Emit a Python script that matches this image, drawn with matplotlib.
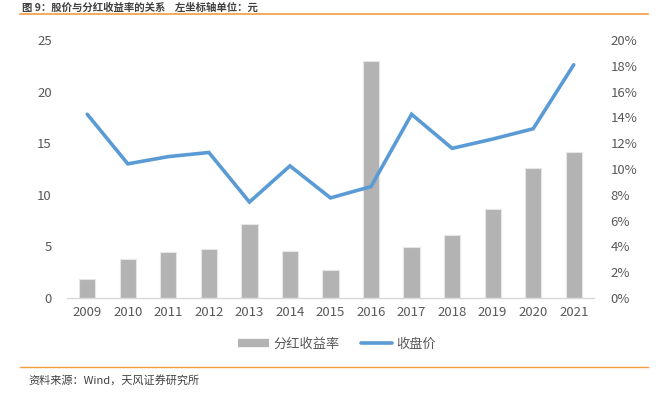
import matplotlib
matplotlib.use("Agg")
import matplotlib.pyplot as plt
from matplotlib.lines import Line2D
from matplotlib.ticker import FuncFormatter

plt.rcParams['font.family'] = ['Noto Sans CJK SC', 'DejaVu Sans']

years = ['2009', '2010', '2011', '2012', '2013', '2014', '2015',
         '2016', '2017', '2018', '2019', '2020', '2021']
dividend_yield = [1.5, 3.0, 3.55, 3.8, 5.76, 3.67, 2.15,
                  18.4, 3.93, 4.88, 6.9, 10.08, 11.3]   # %
close_price = [17.8, 13.0, 13.7, 14.1, 9.3, 12.8, 9.7,
               10.8, 17.8, 14.5, 15.4, 16.4, 22.6]     # 元

W, H = 669, 398
fig = plt.figure(figsize=(W / 100, H / 100), dpi=100)

ax = fig.add_axes([67 / W, 1 - 298 / H, (594 - 67) / W, (298 - 40) / H])
ax2 = ax.twinx()

x = list(range(len(years)))
ax2.bar(x, dividend_yield, width=0.4, color='#b3b3b3', edgecolor='#e6e6e6',
        linewidth=0.8, zorder=2)
ax.plot(x, close_price, color='#5b9bd5', linewidth=2.6, zorder=3,
        solid_capstyle='round', solid_joinstyle='miter')

ax.set_zorder(ax2.get_zorder() + 1)
ax.patch.set_visible(False)

ax.set_xlim(-0.5, len(years) - 0.5)
ax.set_ylim(0, 25)
ax.set_yticks([0, 5, 10, 15, 20, 25])
ax2.set_ylim(0, 20)
ax2.set_yticks(range(0, 21, 2))
ax2.yaxis.set_major_formatter(FuncFormatter(lambda v, p: f'{int(v)}%'))
ax.set_xticks(x)
ax.set_xticklabels(years)

tick_color = '#595959'
for a in (ax, ax2):
    for s in a.spines.values():
        s.set_visible(False)
    a.tick_params(length=0, colors=tick_color, labelsize=9.5)
ax.spines['bottom'].set_visible(True)
ax.spines['bottom'].set_color('#d9d9d9')
ax.spines['bottom'].set_linewidth(1.0)
ax.tick_params(axis='y', pad=11)
ax.tick_params(axis='x', pad=6)
ax2.tick_params(axis='y', pad=12)

# legend
handles = [Line2D([], [], color='#b3b3b3', lw=6, solid_capstyle='butt'),
           Line2D([], [], color='#5b9bd5', lw=2.6, solid_capstyle='round')]
leg = fig.legend(handles, ['分红收益率', '收盘价'], loc='center',
                 bbox_to_anchor=(337 / W, 1 - 344 / H), ncol=2, frameon=False,
                 fontsize=9.5, handlelength=2.4, handletextpad=0.3,
                 columnspacing=1.6)
for t in leg.get_texts():
    t.set_color(tick_color)

# header / footer
orange = '#f39c3f'
fig.add_artist(Line2D([20 / W, 648 / W], [1 - 14 / H, 1 - 14 / H],
                      color=orange, lw=1.2))
fig.add_artist(Line2D([20 / W, 648 / W], [1 - 367 / H, 1 - 367 / H],
                      color=orange, lw=1.0))
fig.text(22 / W, 1 - 12.5 / H, '图 9：股价与分红收益率的关系    左坐标轴单位：元',
         fontsize=7.5, color='#404040', fontweight='bold', va='bottom', ha='left')
fig.text(28 / W, 1 - 380 / H, '资料来源：Wind，天风证券研究所',
         fontsize=8, color='#404040', va='center', ha='left')

fig.savefig('out.png', dpi=100)
